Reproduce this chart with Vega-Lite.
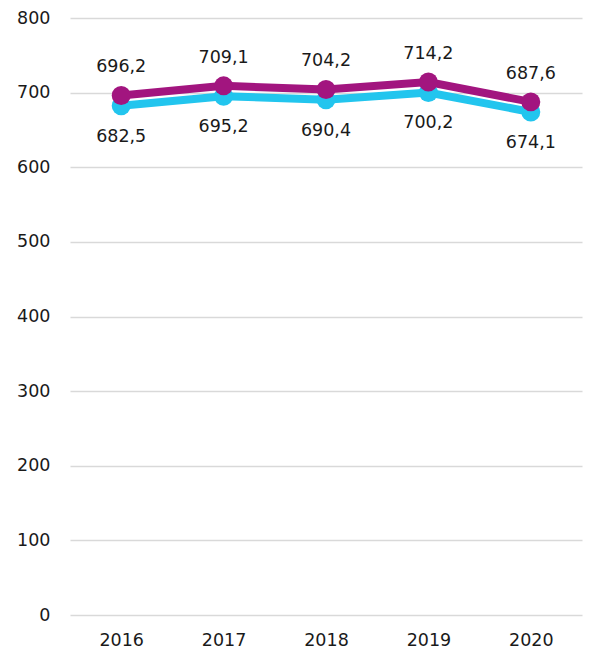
{
  "$schema": "https://vega.github.io/schema/vega-lite/v6.json",
  "width": 512,
  "height": 597,
  "autosize": {"type": "none"},
  "padding": {"left": 70, "top": 18, "right": 13, "bottom": 42},
  "background": "white",
  "config": {
    "view": {"stroke": null},
    "font": "DejaVu Sans",
    "locale": {"number": {"decimal": ",", "thousands": " ", "grouping": [3], "currency": ["", ""]}}
  },
  "data": {
    "values": [
      {"year": "2016", "series": "B", "value": 682.5},
      {"year": "2017", "series": "B", "value": 695.2},
      {"year": "2018", "series": "B", "value": 690.4},
      {"year": "2019", "series": "B", "value": 700.2},
      {"year": "2020", "series": "B", "value": 674.1},
      {"year": "2016", "series": "A", "value": 696.2},
      {"year": "2017", "series": "A", "value": 709.1},
      {"year": "2018", "series": "A", "value": 704.2},
      {"year": "2019", "series": "A", "value": 714.2},
      {"year": "2020", "series": "A", "value": 687.6}
    ]
  },
  "encoding": {
    "x": {
      "field": "year", "type": "ordinal",
      "scale": {"type": "point", "padding": 0.5},
      "axis": {"title": null, "labelAngle": 0, "ticks": false, "domain": false, "grid": false,
               "labelFontSize": 17.5, "labelColor": "#1a1a1a", "labelPadding": 16}
    },
    "y": {
      "field": "value", "type": "quantitative",
      "scale": {"domain": [0, 800]},
      "axis": {"title": null, "values": [0,100,200,300,400,500,600,700,800], "ticks": false, "domain": false,
               "gridColor": "#d9d9d9", "gridWidth": 1.5, "labelFontSize": 17.5, "labelColor": "#1a1a1a", "labelPadding": 20}
    },
    "color": {
      "field": "series", "type": "nominal",
      "scale": {"domain": ["B", "A"], "range": ["#22c5ee", "#a2157f"]},
      "legend": null
    }
  },
  "layer": [
    {"mark": {"type": "line", "strokeWidth": 8}, "encoding": {"detail": {"field": "series"}}},
    {"mark": {"type": "point", "filled": true, "size": 360, "opacity": 1}},
    {
      "transform": [{"filter": "datum.series === 'A'"}],
      "mark": {"type": "text", "fontSize": 17.5, "dy": -28},
      "encoding": {"text": {"field": "value", "type": "quantitative", "format": ".1f"}, "color": {"value": "#1a1a1a"}}
    },
    {
      "transform": [{"filter": "datum.series === 'B'"}],
      "mark": {"type": "text", "fontSize": 17.5, "dy": 31},
      "encoding": {"text": {"field": "value", "type": "quantitative", "format": ".1f"}, "color": {"value": "#1a1a1a"}}
    }
  ]
}
